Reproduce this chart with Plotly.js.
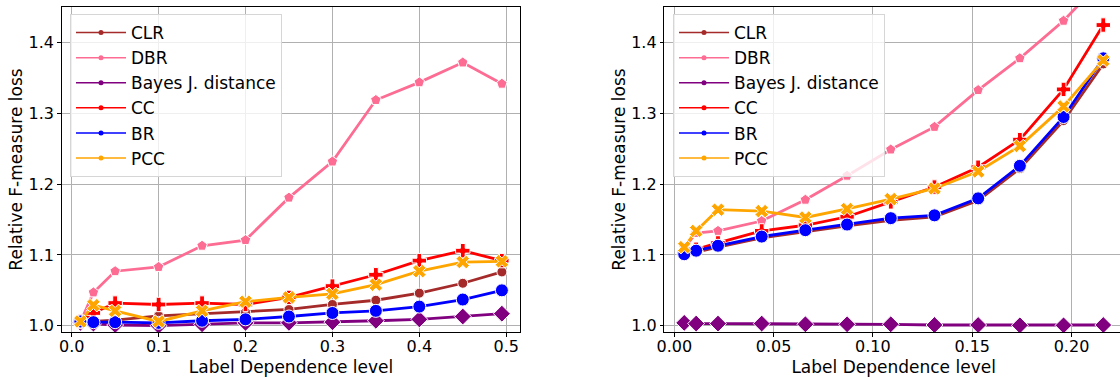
<!DOCTYPE html>
<html>
<head>
<meta charset="utf-8">
<script src="https://cdn.plot.ly/plotly-3.0.1.min.js"></script>
<style>
  html, body { margin: 0; padding: 0; background: #ffffff; overflow: hidden; }
  #chart { width: 1124px; height: 378px; }
</style>
</head>
<body>
<div id="chart"></div>
<script>
// Label dependence level for each experiment
const xLeft  = [0.01, 0.025, 0.05, 0.1, 0.15, 0.2, 0.25, 0.3, 0.35, 0.4, 0.45, 0.495];
const xRight = [0.005, 0.011, 0.022, 0.044, 0.066, 0.087, 0.109, 0.131, 0.153, 0.174, 0.196, 0.216];

// Relative F-measure loss, left panel
const clrLeft   = [1.005, 1.006, 1.008, 1.014, 1.017, 1.019, 1.023, 1.030, 1.036, 1.046, 1.060, 1.076];
const dbrLeft   = [1.005, 1.047, 1.077, 1.083, 1.113, 1.121, 1.181, 1.232, 1.319, 1.344, 1.372, 1.342];
const bayesLeft = [1.004, 1.003, 1.001, 1.000, 1.002, 1.004, 1.004, 1.005, 1.007, 1.009, 1.013, 1.017];
const ccLeft    = [1.006, 1.018, 1.032, 1.030, 1.032, 1.030, 1.040, 1.056, 1.072, 1.092, 1.106, 1.092];
const brLeft    = [1.006, 1.005, 1.005, 1.004, 1.007, 1.009, 1.013, 1.018, 1.021, 1.027, 1.037, 1.050];
const pccLeft   = [1.006, 1.029, 1.021, 1.006, 1.021, 1.034, 1.040, 1.045, 1.058, 1.077, 1.090, 1.091];

// Relative F-measure loss, right panel
const clrRight   = [1.100, 1.104, 1.111, 1.124, 1.133, 1.141, 1.149, 1.154, 1.177, 1.222, 1.290, 1.370];
const dbrRight   = [1.110, 1.131, 1.134, 1.148, 1.178, 1.212, 1.249, 1.281, 1.333, 1.378, 1.431, 1.490];
const bayesRight = [1.004, 1.003, 1.003, 1.003, 1.002, 1.002, 1.002, 1.001, 1.001, 1.0005, 1.0005, 1.001];
const ccRight    = [1.102, 1.108, 1.117, 1.134, 1.142, 1.154, 1.175, 1.196, 1.224, 1.263, 1.334, 1.425];
const brRight    = [1.101, 1.106, 1.113, 1.126, 1.135, 1.143, 1.152, 1.156, 1.180, 1.226, 1.295, 1.378];
const pccRight   = [1.111, 1.134, 1.164, 1.162, 1.153, 1.165, 1.179, 1.194, 1.218, 1.254, 1.310, 1.375];

const methodNames = ['CLR', 'DBR', 'Bayes J. distance', 'CC', 'BR', 'PCC'];
const methodColors = ['#a52a2a', '#fd6c93', '#800080', '#ff0000', '#0000ff', '#ffa500'];
const methodSymbols = ['circle', 'pentagon', 'diamond', 'cross', 'circle', 'x'];
const methodSizes = [10, 11, 13, 12, 13, 12];

const leftSeries  = [clrLeft, dbrLeft, bayesLeft, ccLeft, brLeft, pccLeft];
const rightSeries = [clrRight, dbrRight, bayesRight, ccRight, brRight, pccRight];

const W = 1124, H = 378;
const FONT = 'DejaVu Sans, Verdana, sans-serif';
const TICK_FS = 16;
const TEXT_FS = 17;

const traces = [];
function addPanel(xs, series, xa, ya, legendId) {
  series.forEach((ys, i) => {
    traces.push({
      type: 'scatter', mode: 'lines+markers',
      x: xs, y: ys, xaxis: xa, yaxis: ya,
      name: methodNames[i], showlegend: false,
      line: { color: methodColors[i], width: 2.8 },
      marker: { symbol: methodSymbols[i], size: methodSizes[i], color: methodColors[i],
                line: { color: '#ffffff', width: 1 } }
    });
  });
  // legend keys: thin line with a small dot, as in the key box
  methodNames.forEach((nm, i) => {
    traces.push({
      type: 'scatter', mode: 'lines+markers',
      x: [null], y: [null], xaxis: xa, yaxis: ya,
      name: nm, legend: legendId, legendgroup: legendId + nm, showlegend: true,
      line: { color: methodColors[i], width: 1.5 },
      marker: { symbol: 'circle', size: 5, color: methodColors[i] }
    });
  });
}
addPanel(xLeft, leftSeries, 'x', 'y', 'legend');
addPanel(xRight, rightSeries, 'x2', 'y2', 'legend2');

const yRange = [0.9911, 1.4505];
const yDomain = [(H - 332) / H, (H - 7) / H];

function xAxis(domainPx, range, fmt, anchor) {
  return {
    domain: [domainPx[0] / W, domainPx[1] / W], range: range, anchor: anchor,
    tickmode: 'linear', tick0: 0, dtick: fmt === '.1f' ? 0.1 : 0.05, tickformat: fmt,
    showgrid: true, gridcolor: '#b0b0b0', gridwidth: 1,
    zeroline: false, showline: true, linecolor: '#000000', linewidth: 1, mirror: true,
    ticks: 'outside', ticklen: 3.5, tickwidth: 1, tickcolor: '#000000',
    ticklabelstandoff: -4,
    tickfont: { family: FONT, size: TICK_FS, color: '#000000' },
    title: { text: 'Label Dependence level', font: { family: FONT, size: TEXT_FS, color: '#000000' }, standoff: 6 }
  };
}
function yAxis(anchor) {
  return {
    domain: yDomain, range: yRange, anchor: anchor,
    tickmode: 'linear', tick0: 1.0, dtick: 0.1, tickformat: '.1f',
    showgrid: true, gridcolor: '#b0b0b0', gridwidth: 1,
    zeroline: false, showline: true, linecolor: '#000000', linewidth: 1, mirror: true,
    ticks: 'outside', ticklen: 3.5, tickwidth: 1, tickcolor: '#000000',
    tickfont: { family: FONT, size: TICK_FS, color: '#000000' },
    title: { text: 'Relative F-measure loss', font: { family: FONT, size: TEXT_FS, color: '#000000' }, standoff: 1 }
  };
}

const legendStyle = (xPx) => ({
  x: xPx / W, y: 1 - 14 / H, xanchor: 'left', yanchor: 'top',
  bgcolor: 'rgba(255,255,255,0.8)', bordercolor: '#d6d6d6', borderwidth: 1,
  font: { family: FONT, size: TEXT_FS, color: '#000000' },
  itemwidth: 50, tracegroupgap: 0, traceorder: 'grouped', itemclick: false
});

const layout = {
  width: W, height: H,
  margin: { l: 0, r: 0, t: 0, b: 0, pad: 0 },
  paper_bgcolor: '#ffffff', plot_bgcolor: '#ffffff',
  showlegend: true,
  xaxis: xAxis([61.7, 520.4], [-0.0115, 0.5163], '.1f', 'y'),
  yaxis: yAxis('x'),
  xaxis2: xAxis([664.3, 1123], [-0.00504, 0.22593], '.2f', 'y2'),
  yaxis2: yAxis('x2'),
  legend: legendStyle(70),
  legend2: legendStyle(673)
};

Plotly.newPlot('chart', traces, layout, { displayModeBar: false, staticPlot: true });
</script>
</body>
</html>
